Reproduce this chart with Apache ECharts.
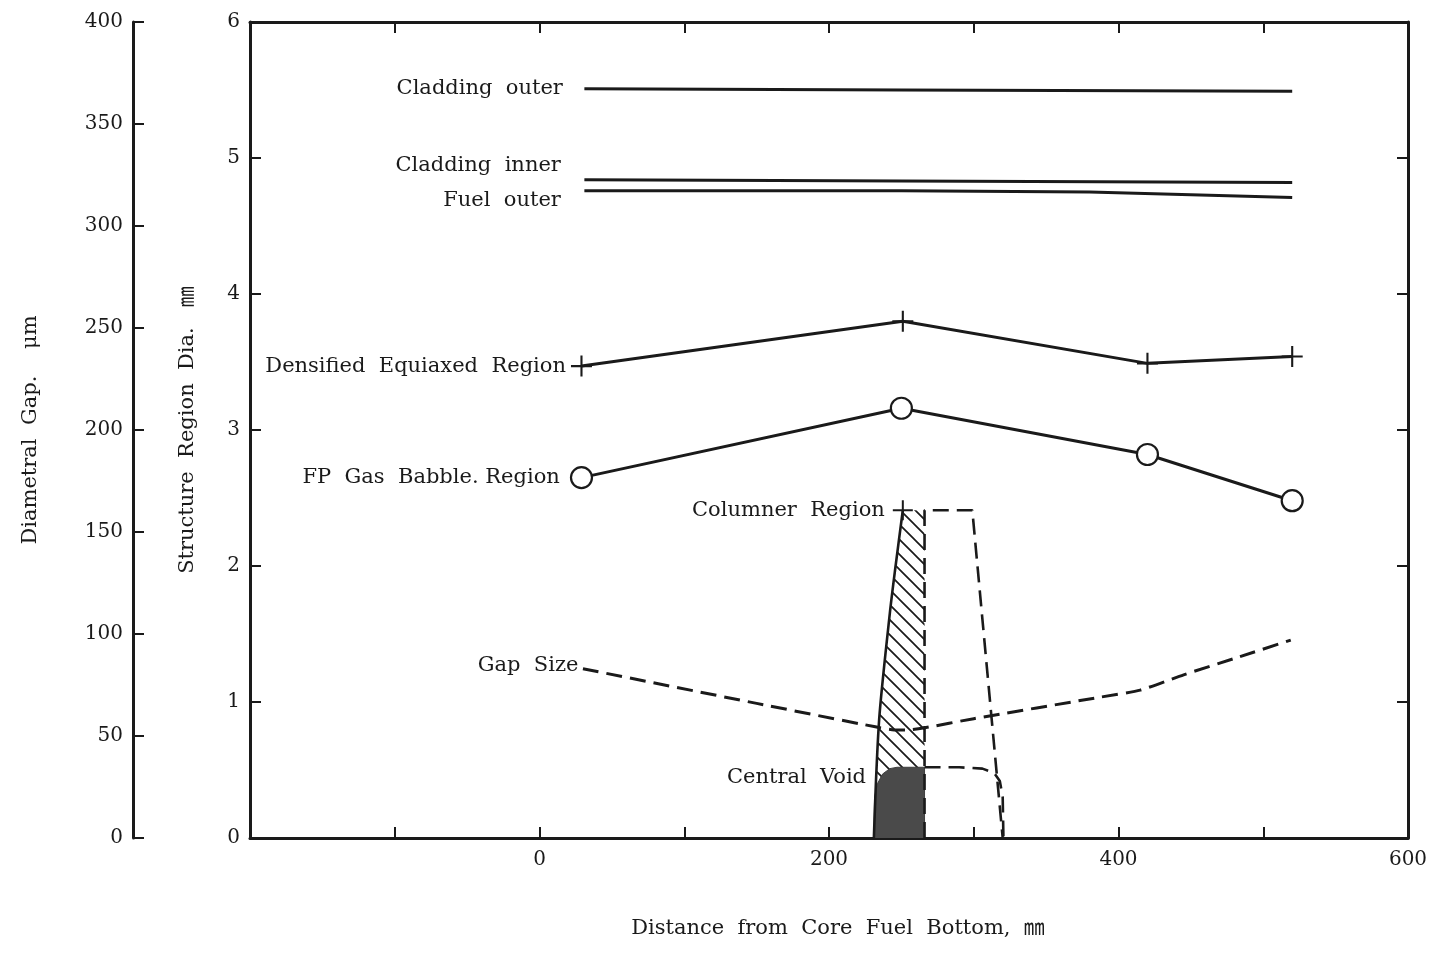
<!DOCTYPE html>
<html>
<head>
<meta charset="utf-8">
<title>Structure Region Diameter vs Distance</title>
<script src="https://cdn.jsdelivr.net/npm/echarts@6/dist/echarts.min.js"></script>
<style>
  html, body { margin: 0; padding: 0; background: #fff; }
  #chart { width: 1439px; height: 953px; }
</style>
</head>
<body>
<div id="chart"></div>
<script>
// Axis ranges (distance in mm, region diameter in mm, gap in micrometres)
const xRange = [-200, 600];
const diaRange = [0, 6];
const gapRange = [0, 400];

// Boundary lines: [distance, diameter]
const claddingOuter = [[31, 5.51], [250, 5.50], [520, 5.49]];
const claddingInner = [[31, 4.84], [250, 4.83], [520, 4.82]];
const fuelOuter = [[31, 4.76], [250, 4.76], [380, 4.75], [520, 4.71]];

// Structure regions
const densifiedEquiaxed = [[29, 3.47], [251, 3.80], [420, 3.49], [520, 3.54]];
const fpGasBubble = [[29, 2.65], [250, 3.16], [420, 2.82], [520, 2.48]];
const columnarPoint = [[251, 2.41]];
const columnarLeftEdge = [[231, 0], [232.5, 0.43], [235, 0.92], [242, 1.65], [246, 2.0], [251, 2.41]];
const columnarDashed = [[266, 0], [266, 2.41], [299, 2.41], [320, 0]];

// Central void outline and its dashed continuation
const centralVoid = [[231, 0], [231.5, 0.3], [233.5, 0.4], [237, 0.47], [242, 0.51], [247, 0.52], [266, 0.52], [266, 0]];
const centralVoidDashed = [[266, 0.52], [290, 0.52], [306, 0.51], [314, 0.48], [318, 0.42], [320, 0.3], [320.5, 0]];

// Diametral gap size, micrometres
const gapSize = [[30, 83], [150, 66], [232, 54.5], [245, 53], [255, 53], [266, 54], [300, 58.5], [387, 69], [415, 72.5], [445, 80], [480, 88], [519, 97]];

const FONT = '"DejaVu Serif", "Noto Sans CJK JP", serif';
const INK = '#1a1a1a';
const CROSS = 'path://M9,0h2v9h9v2h-9v9h-2v-9h-9v-2h9z';

// Diagonal hatch tile for the columnar region
function makeHatch() {
  const s = 15;
  const c = document.createElement('canvas');
  c.width = s; c.height = s;
  const g = c.getContext('2d');
  g.strokeStyle = INK;
  g.lineWidth = 1.7;
  g.beginPath();
  g.moveTo(0, 0); g.lineTo(s, s);
  g.moveTo(-s / 2, s / 2); g.lineTo(s / 2, s * 1.5);
  g.moveTo(s / 2, -s / 2); g.lineTo(s * 1.5, s / 2);
  g.stroke();
  return c;
}
const hatchTile = makeHatch();

function labelOn(point, text, extra) {
  return {
    value: point,
    label: Object.assign({
      show: true, position: 'left', formatter: text,
      color: INK, fontFamily: FONT, fontSize: 21
    }, extra || {})
  };
}

function withLabel(data, idx, text, extra) {
  return data.map((p, i) => i === idx ? labelOn(p, text, extra) : p);
}

const solid = (w) => ({ color: INK, width: w || 3 });
const dashed = (w) => ({ color: INK, width: w || 3, type: [16, 8] });

const plainLine = (name, data, lineStyle, extra) => Object.assign({
  name, type: 'line', data,
  showSymbol: true, symbol: 'circle', symbolSize: 1,
  itemStyle: { color: 'transparent' },
  lineStyle, silent: true, animation: false, z: 3
}, extra || {});

const axisLine = { onZero: false, lineStyle: { color: INK, width: 3 } };
const axisTick = { inside: true, length: 11, lineStyle: { color: INK, width: 2 } };
const axisLabel = { color: INK, fontFamily: FONT, fontSize: 20 };

const chart = echarts.init(document.getElementById('chart'), null, { renderer: 'canvas' });

chart.setOption({
  backgroundColor: '#fff',
  animation: false,
  grid: { left: 250, right: 31, top: 22, bottom: 115 },
  xAxis: [
    {
      type: 'value', position: 'bottom', min: xRange[0], max: xRange[1], interval: 100,
      axisLine, axisTick, splitLine: { show: false },
      axisLabel: Object.assign({}, axisLabel, {
        margin: 12,
        formatter: v => (v >= 0 && v % 200 === 0) ? String(v) : ''
      }),
      name: 'Distance  from  Core  Fuel  Bottom,  ㎜',
      nameLocation: 'middle', nameGap: 80,
      nameTextStyle: { color: INK, fontFamily: FONT, fontSize: 21, padding: [0, 0, 0, 18] }
    },
    {
      type: 'value', position: 'top', min: xRange[0], max: xRange[1], interval: 100,
      axisLine, axisTick, splitLine: { show: false }, axisLabel: { show: false }
    }
  ],
  yAxis: [
    {
      type: 'value', position: 'left', min: diaRange[0], max: diaRange[1], interval: 1,
      axisLine, axisTick, splitLine: { show: false },
      axisLabel: Object.assign({}, axisLabel, { margin: 10 }),
      name: 'Structure  Region  Dia.   ㎜',
      nameLocation: 'middle', nameGap: 52,
      nameTextStyle: { color: INK, fontFamily: FONT, fontSize: 21 }
    },
    {
      type: 'value', position: 'left', offset: 117, min: gapRange[0], max: gapRange[1], interval: 50,
      axisLine, axisTick, splitLine: { show: false },
      axisLabel: Object.assign({}, axisLabel, { margin: 10 }),
      name: 'Diametral  Gap.    μm',
      nameLocation: 'middle', nameGap: 92,
      nameTextStyle: { color: INK, fontFamily: FONT, fontSize: 21 }
    },
    {
      type: 'value', position: 'right', min: diaRange[0], max: diaRange[1], interval: 1,
      axisLine, axisTick, splitLine: { show: false }, axisLabel: { show: false }
    }
  ],
  series: [
    // Hatched columnar region
    {
      name: 'Columnar area', type: 'custom', silent: true, z: 1,
      coordinateSystem: 'cartesian2d', xAxisIndex: 0, yAxisIndex: 0,
      data: [[0]],
      renderItem: (params, api) => {
        const outline = columnarLeftEdge.concat([[266, columnarPoint[0][1]], [266, 0]]);
        return {
          type: 'polygon',
          shape: { points: outline.map(p => api.coord(p)) },
          style: { fill: { image: hatchTile, repeat: 'repeat' }, stroke: null }
        };
      }
    },
    // Central void, filled down to the axis
    plainLine('Central Void', withLabel(centralVoid, 3, 'Central  Void', { distance: 16, offset: [0, 3] }),
      { color: '#3f3f3f', width: 1 },
      { areaStyle: { color: '#4a4a4a', opacity: 1 }, z: 2 }),
    plainLine('Central Void boundary', centralVoidDashed, dashed(2.6)),
    plainLine('Columnar boundary', columnarLeftEdge, solid(2.6), { smooth: 0.3 }),
    plainLine('Columnar dashed', columnarDashed, dashed(2.6)),
    {
      name: 'Columner Region', type: 'scatter', data: withLabel(columnarPoint, 0, 'Columner  Region', { distance: 8 }),
      symbol: CROSS, symbolSize: 20, itemStyle: { color: INK, opacity: 1 }, silent: true, z: 5
    },
    plainLine('Cladding outer', withLabel(claddingOuter, 0, 'Cladding  outer', { distance: 21 }), solid(3)),
    plainLine('Cladding inner', withLabel(claddingInner, 0, 'Cladding  inner', { distance: 23, offset: [0, -14] }), solid(3)),
    plainLine('Fuel outer', withLabel(fuelOuter, 0, 'Fuel  outer', { distance: 23, offset: [0, 10] }), solid(3)),
    {
      name: 'Densified Equiaxed Region', type: 'line',
      data: withLabel(densifiedEquiaxed, 0, 'Densified  Equiaxed  Region', { distance: 5 }),
      symbol: CROSS, symbolSize: 21, showSymbol: true,
      itemStyle: { color: INK }, lineStyle: solid(3), silent: true, z: 4
    },
    {
      name: 'FP Gas Babble. Region', type: 'line',
      data: withLabel(fpGasBubble, 0, 'FP  Gas  Babble. Region', { distance: 10 }),
      symbol: 'circle', symbolSize: 21, showSymbol: true,
      itemStyle: { color: '#fff', borderColor: INK, borderWidth: 2.2 },
      lineStyle: solid(3), silent: true, z: 4
    },
    plainLine('Gap Size', withLabel(gapSize, 0, 'Gap  Size', { distance: 4, offset: [0, -3] }), dashed(3),
      { yAxisIndex: 1, smooth: 0.2 })
  ]
});
</script>
</body>
</html>
